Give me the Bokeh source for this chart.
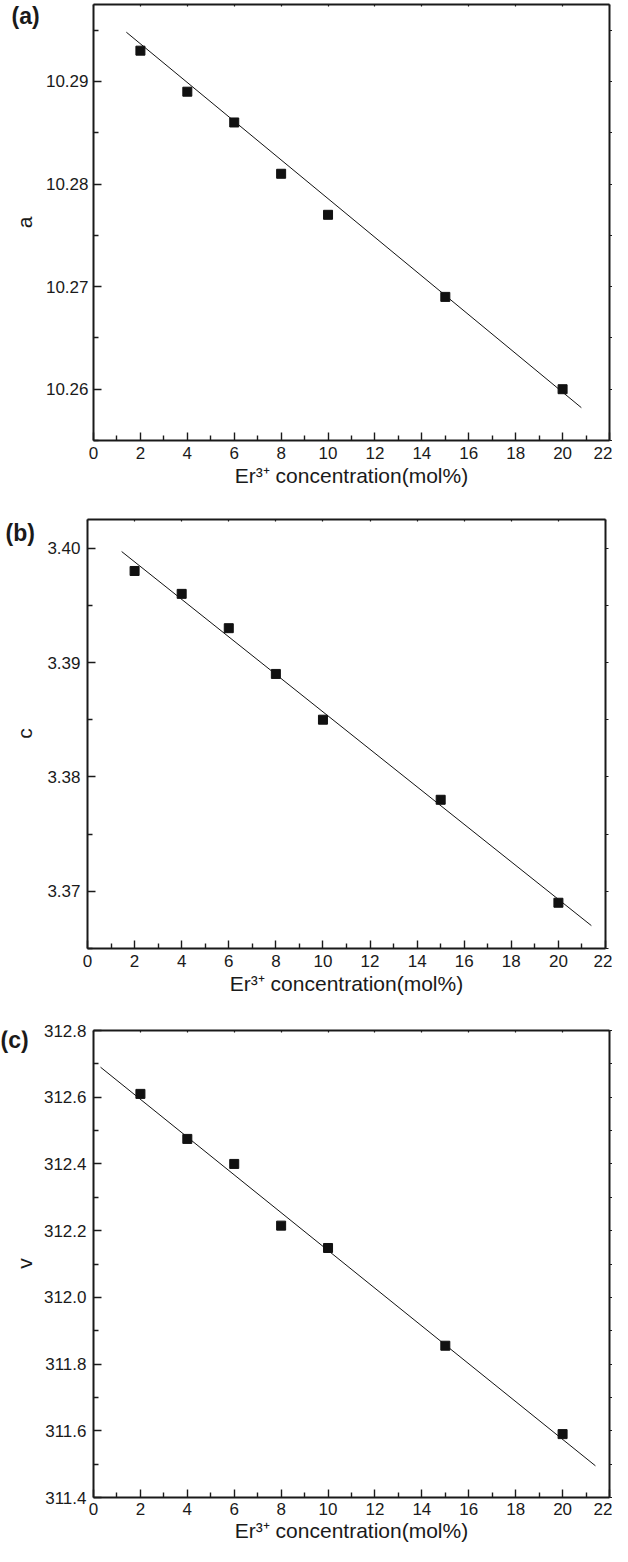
import math
from bokeh.plotting import figure
from bokeh.models import (LinearAxis, FixedTicker, PrintfTickFormatter,
                          Label, Range1d)
from bokeh.layouts import column, row
from bokeh.embed import file_html
from bokeh.resources import INLINE
from bokeh.core.validation import silence
from bokeh.core.validation.warnings import MISSING_RENDERERS

silence(MISSING_RENDERERS, True)

# ---------------- data ----------------
conc = [2, 4, 6, 8, 10, 15, 20]
a_vals = [10.293, 10.289, 10.286, 10.281, 10.277, 10.269, 10.260]
c_vals = [3.398, 3.396, 3.393, 3.389, 3.385, 3.378, 3.369]
v_vals = [312.61, 312.475, 312.40, 312.215, 312.148, 311.855, 311.59]

fit_a_x = [1.4, 20.8]
fit_a_y = [10.2948, 10.2582]
fit_c_x = [1.45, 21.4]
fit_c_y = [3.3997, 3.3670]
fit_v_x = [0.3, 21.4]
fit_v_y = [312.69, 311.495]

x_ticks = [0, 2, 4, 6, 8, 10, 12, 14, 16, 18, 20, 22]
x_minor = [1, 3, 5, 7, 9, 11, 13, 15, 17, 19, 21]
a_ticks = [10.26, 10.27, 10.28, 10.29]
a_minor = [10.255, 10.265, 10.275, 10.285, 10.295]
c_ticks = [3.37, 3.38, 3.39, 3.40]
c_minor = [3.365, 3.375, 3.385, 3.395]
v_ticks = [311.4, 311.6, 311.8, 312.0, 312.2, 312.4, 312.6, 312.8]
v_minor = [311.5, 311.7, 311.9, 312.1, 312.3, 312.5, 312.7]

x_label = "Er\u00b3\u207a concentration(mol%)"

FONT = "Liberation Sans"
INK = "#1a1a1a"
TOTAL_W = 612


def side_panel(side_w, height, tag, tag_x, tag_y, ylabel, ylab_y):
    # narrow companion figure holding the panel tag and the y-axis title;
    # positions are canvas pixels measured from its top-left corner
    s = figure(width=side_w, height=height, output_backend="svg",
               toolbar_location=None, x_axis_type=None, y_axis_type=None,
               x_range=Range1d(0, 1), y_range=Range1d(0, 1), min_border=0,
               background_fill_color="white", border_fill_color="white")
    s.outline_line_color = None
    s.add_layout(Label(x=tag_x, y=tag_y, x_units="canvas", y_units="canvas",
                       text=tag, text_font=FONT, text_font_size="23px",
                       text_font_style="bold", text_color=INK,
                       text_baseline="middle", text_align="left"))
    s.add_layout(Label(x=24, y=ylab_y, x_units="canvas", y_units="canvas",
                       text=ylabel, text_font=FONT, text_font_size="21px",
                       text_color=INK, angle=math.pi / 2,
                       text_baseline="middle", text_align="center"))
    return s


def make_panel(side_w, yvals, fx, fy, yrange, yticks, yminor, yfmt,
               height, left, right, top, bottom, lab_so, axlab_so, ylab_so):
    p = figure(width=TOTAL_W - side_w, height=height, output_backend="svg",
               toolbar_location=None, x_axis_type=None, y_axis_type=None,
               x_range=Range1d(0, 22), y_range=Range1d(*yrange),
               min_border_left=left, min_border_right=right,
               min_border_top=top, min_border_bottom=bottom,
               background_fill_color="white", border_fill_color="white")
    p.outline_line_color = None

    xb = LinearAxis(ticker=FixedTicker(ticks=x_ticks, minor_ticks=x_minor),
                    formatter=PrintfTickFormatter(format="%d"),
                    axis_label=x_label)
    yl = LinearAxis(ticker=FixedTicker(ticks=yticks, minor_ticks=yminor),
                    formatter=PrintfTickFormatter(format=yfmt))
    for ax in (xb, yl):
        ax.axis_line_color = INK
        ax.axis_line_width = 2
        ax.major_tick_line_color = INK
        ax.major_tick_line_width = 1.4
        ax.minor_tick_line_color = INK
        ax.minor_tick_line_width = 1.4
        ax.major_tick_in = 8
        ax.major_tick_out = 0
        ax.minor_tick_in = 5
        ax.minor_tick_out = 0
        ax.major_label_text_font = FONT
        ax.major_label_text_font_size = "17px"
        ax.major_label_text_color = INK
        ax.axis_label_text_font = FONT
        ax.axis_label_text_font_size = "21px"
        ax.axis_label_text_font_style = "normal"
        ax.axis_label_text_color = INK
    xb.major_label_standoff = lab_so
    xb.axis_label_standoff = axlab_so
    yl.major_label_standoff = ylab_so

    # frame top / right: tick marks only (drawn as unlabeled minor ticks)
    xt = LinearAxis(ticker=FixedTicker(ticks=[], minor_ticks=x_ticks))
    yr = LinearAxis(ticker=FixedTicker(ticks=[], minor_ticks=sorted(yticks + yminor)))
    for ax in (xt, yr):
        ax.axis_line_color = INK
        ax.axis_line_width = 2
        ax.major_tick_line_color = None
        ax.minor_tick_line_color = INK
        ax.minor_tick_line_width = 1.2
        ax.major_label_standoff = 0
        ax.axis_label_standoff = 0
    xt.minor_tick_in = 2
    xt.minor_tick_out = 0
    yr.minor_tick_in = 0
    yr.minor_tick_out = 3

    p.add_layout(xb, "below")
    p.add_layout(yl, "left")
    p.add_layout(xt, "above")
    p.add_layout(yr, "right")

    p.line(fx, fy, line_color="#111111", line_width=1)
    p.scatter(conc, yvals, marker="square", size=9, fill_color="#111111",
              line_color="#111111")
    return p


# panel (a): figure spans page y 8 -> 500
pa = make_panel(42, a_vals, fit_a_x, fit_a_y, (10.255, 10.2975), a_ticks, a_minor,
                "%.2f", 492, 48, 3, 4, 52, 6, 2, 5)
sa = side_panel(42, 492, "(a)", 11, 15, "a", 222)
# panel (b): page y 500 -> 1010
pb = make_panel(38, c_vals, fit_c_x, fit_c_y, (3.365, 3.4025), c_ticks, c_minor,
                "%.2f", 510, 49, 7, 27, 54, 6, 2, 7)
sb = side_panel(38, 510, "(b)", 5, 40, "c", 241)
# panel (c): page y 1010 -> 1554
pc = make_panel(38, v_vals, fit_v_x, fit_v_y, (311.4, 312.8), v_ticks, v_minor,
                "%.1f", 544, 55, 3, 28, 49, 5, 1, 7)
sc = side_panel(38, 544, "(c)", 0, 37, "v", 261)

layout = column(row(sa, pa, spacing=0), row(sb, pb, spacing=0),
                row(sc, pc, spacing=0), spacing=0)

with open("out.html", "w") as f:
    f.write(file_html(layout, INLINE))
